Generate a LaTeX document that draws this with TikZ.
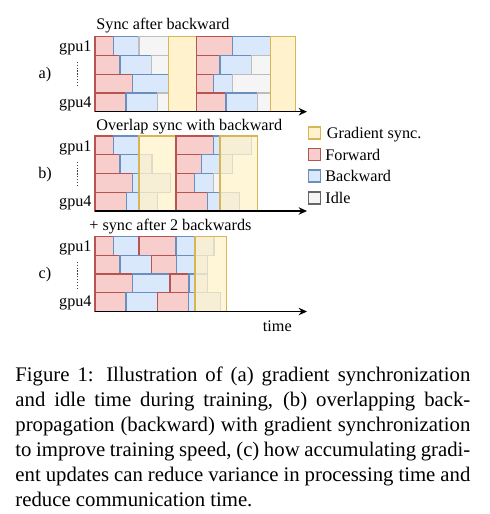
\documentclass[tikz,border=0pt]{standalone}
\usepackage{fontspec}
\setmainfont{Liberation Serif}
\usetikzlibrary{arrows.meta}
\definecolor{fwfill}{HTML}{F8CECC}
\definecolor{fwline}{HTML}{B85450}
\definecolor{bwfill}{HTML}{DAE8FC}
\definecolor{bwline}{HTML}{6C8EBF}
\definecolor{syfill}{HTML}{FFF2CC}
\definecolor{syline}{HTML}{D6B656}
\definecolor{idfill}{HTML}{F5F5F5}
\definecolor{idline}{HTML}{BDBDBD}
\newcommand{\mybox}[5]{\path[#1] (#4,{#2+(#3-1)*18.75}) rectangle (#5,{#2+#3*18.75});}
\begin{document}
\begin{tikzpicture}[x=0.4816pt,y=-0.4816pt,
  fw/.style={draw=fwline,fill=fwfill,line width=0.55pt},
  bw/.style={draw=bwline,fill=bwfill,line width=0.55pt},
  idl/.style={draw=idline,fill=idfill,line width=0.55pt},
  sy/.style={draw=syline,fill=syfill,line width=0.55pt},
  syo/.style={draw=syline,fill=syfill,fill opacity=0.78,line width=0.55pt},
  axis/.style={draw=black,line width=0.75pt,-{Stealth[length=4pt,width=3.6pt]}},
  lbl/.style={font=\fontsize{7.8}{9}\selectfont,inner sep=0pt,text height=1.45ex,text depth=0.3ex},
  legbox/.style={line width=0.7pt,minimum size=12pt*0.4816,inner sep=0pt},
  dots/.style={draw=black!75,line width=0.35pt,dash pattern=on 0.6pt off 0.8pt}]
\useasboundingbox (0,0) rectangle (490,514);
% ---------------- panel a ----------------
\def\T{36.7}
\mybox{fw}{\T}{1}{95}{113.5}\mybox{bw}{\T}{1}{113.5}{139}\mybox{idl}{\T}{1}{139}{168.7}
\mybox{fw}{\T}{2}{95}{120}\mybox{bw}{\T}{2}{120}{151.7}\mybox{idl}{\T}{2}{151.7}{168.7}
\mybox{fw}{\T}{3}{95}{132.5}\mybox{bw}{\T}{3}{132.5}{168.7}
\mybox{fw}{\T}{4}{95}{126}\mybox{bw}{\T}{4}{126}{157.7}\mybox{idl}{\T}{4}{157.7}{168.7}
\path[sy] (168.7,\T) rectangle (196.7,111.7);
\mybox{fw}{\T}{1}{196.7}{232.7}\mybox{bw}{\T}{1}{232.7}{270.3}
\mybox{fw}{\T}{2}{196.7}{220}\mybox{bw}{\T}{2}{220}{251.7}\mybox{idl}{\T}{2}{251.7}{270.3}
\mybox{fw}{\T}{3}{196.7}{213.3}\mybox{bw}{\T}{3}{213.3}{232.7}\mybox{idl}{\T}{3}{232.7}{270.3}
\mybox{fw}{\T}{4}{196.7}{226}\mybox{bw}{\T}{4}{226}{257.7}\mybox{idl}{\T}{4}{257.7}{270.3}
\path[sy] (270.3,\T) rectangle (295.3,111.7);
\coordinate (a0) at (95,111.7); \coordinate (a1) at (307,111.7);
\draw[axis] (a0) -- (a1);
\node[lbl,anchor=west] (ta) at (96,24) {Sync after backward};
\node[lbl,anchor=east] (a1g) at (92,46) {gpu1};
\node[lbl,anchor=east] (a4g) at (92,102) {gpu4};
\node[lbl] (la) at (45,73) {a)};
\coordinate (ad0) at (77,61.7); \coordinate (ad1) at (77,87.3);
\draw[dots] (ad0) -- (ad1);
% ---------------- panel b ----------------
\def\T{136}
\mybox{fw}{\T}{1}{95}{113.5}\mybox{bw}{\T}{1}{113.5}{139}
\mybox{fw}{\T}{2}{95}{120}\mybox{bw}{\T}{2}{120}{152}
\mybox{fw}{\T}{3}{95}{132.5}\mybox{bw}{\T}{3}{132.5}{170.3}
\mybox{fw}{\T}{4}{95}{126.3}\mybox{bw}{\T}{4}{126.3}{157.3}
\path[syo] (139,\T) rectangle (176,211);
\mybox{fw}{\T}{1}{176}{213.3}\mybox{bw}{\T}{1}{213.3}{251.7}
\mybox{fw}{\T}{2}{176}{201.7}\mybox{bw}{\T}{2}{201.7}{232.7}
\mybox{fw}{\T}{3}{176}{194.5}\mybox{bw}{\T}{3}{194.5}{213.5}\mybox{idl}{\T}{3}{213.5}{220}
\mybox{fw}{\T}{4}{176}{207.5}\mybox{bw}{\T}{4}{207.5}{239.3}
\path[syo] (220,\T) rectangle (257.7,211);
\coordinate (b0) at (95,211); \coordinate (b1) at (307,211);
\draw[axis] (b0) -- (b1);
\node[lbl,anchor=west] (tb) at (96,125) {Overlap sync with backward};
\node[lbl,anchor=east] (b1g) at (92,146) {gpu1};
\node[lbl,anchor=east] (b4g) at (92,201) {gpu4};
\node[lbl] (lb) at (45,173) {b)};
\coordinate (bd0) at (77,161.7); \coordinate (bd1) at (77,185);
\draw[dots] (bd0) -- (bd1);
% ---------------- panel c ----------------
\def\T{236.5}
\mybox{fw}{\T}{1}{95}{113.5}\mybox{bw}{\T}{1}{113.5}{139}\mybox{fw}{\T}{1}{139}{176}\mybox{bw}{\T}{1}{176}{214}
\mybox{fw}{\T}{2}{95}{120}\mybox{bw}{\T}{2}{120}{151.7}\mybox{fw}{\T}{2}{151.7}{176.5}\mybox{bw}{\T}{2}{176.5}{207.7}
\mybox{fw}{\T}{3}{95}{132.5}\mybox{bw}{\T}{3}{132.5}{170}\mybox{fw}{\T}{3}{170}{189}\mybox{bw}{\T}{3}{189}{207.7}
\mybox{fw}{\T}{4}{95}{126}\mybox{bw}{\T}{4}{126}{157.7}\mybox{fw}{\T}{4}{157.7}{188.3}\mybox{bw}{\T}{4}{188.3}{220.7}
\path[syo] (195,\T) rectangle (226.7,311.5);
\coordinate (c0) at (95,311.5); \coordinate (c1) at (307,311.5);
\draw[axis] (c0) -- (c1);
\node[lbl,anchor=west] (tc) at (89,225) {+ sync after 2 backwards};
\node[lbl,anchor=east] (c1g) at (92,246) {gpu1};
\node[lbl,anchor=east] (c4g) at (92,301) {gpu4};
\node[lbl] (lc) at (45,273) {c)};
\coordinate (cd0) at (77,261.7); \coordinate (cd1) at (77,288.3);
\draw[dots] (cd0) -- (cd1);
\node[lbl,anchor=west] (time) at (262.5,326) {time};
% ---------------- legend ----------------
\node[legbox,draw=syline,fill=syfill] (lg1) at (314.5,133) {};
\node[legbox,draw=fwline,fill=fwfill] (lg2) at (314.5,154.7) {};
\node[legbox,draw=bwline,fill=bwfill] (lg3) at (314.5,176) {};
\node[legbox,draw=black!60,fill=idfill] (lg4) at (314.5,198) {};
\node[lbl,anchor=west] (lt1) at (326.5,133) {Gradient sync.};
\node[lbl,anchor=west] (lt2) at (325,155) {Forward};
\node[lbl,anchor=west] (lt3) at (325,176) {Backward};
\node[lbl,anchor=west] (lt4) at (325,198) {Idle};
% ---------------- caption ----------------
\node[anchor=north west,inner sep=0pt,text width=219.1pt,align=justify,
  font=\fontsize{10}{12}\selectfont] (cap) at (15,366.5)
 {Figure 1: Illustration of (a) gradient synchronization\linebreak
 and idle time during training, (b) overlapping back-\linebreak
 propagation (backward) with gradient synchronization\linebreak
 to improve training speed, (c) how accumulating gradi-\linebreak
 ent updates can reduce variance in processing time and\linebreak
 reduce communication time.};
\end{tikzpicture}
\end{document}
